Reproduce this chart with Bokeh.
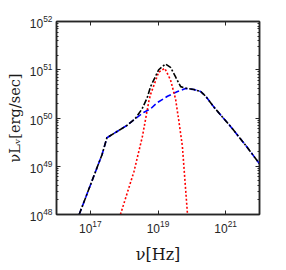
import numpy as np
from bokeh.plotting import figure
from bokeh.models import Range1d, FixedTicker, LogAxis
from bokeh.embed import file_html
from bokeh.resources import INLINE

# ---- data (log10 values) ----
log_nu_total = [16.67, 17.35, 17.49, 17.79, 18.09, 18.33, 18.53, 18.68, 18.78, 19.02,
                19.22, 19.37, 19.52, 19.67, 19.81, 20.06, 20.26, 20.41, 20.66, 21.15,
                21.64, 22.0]
log_L_total = [48.0, 49.25, 49.59, 49.72, 49.85, 49.99, 50.19, 50.42, 50.65, 51.0,
               51.12, 51.05, 50.85, 50.65, 50.62, 50.59, 50.55, 50.45, 50.22, 49.82,
               49.39, 49.05]

log_nu_nonth = [16.67, 17.35, 17.49, 17.79, 18.09, 18.39, 18.59, 18.78, 18.98, 19.28,
                19.58, 19.81, 20.06, 20.26, 20.41, 20.66, 21.15, 21.64, 22.0]
log_L_nonth = [48.0, 49.25, 49.59, 49.72, 49.85, 50.02, 50.12, 50.19, 50.32, 50.45,
               50.55, 50.61, 50.59, 50.55, 50.45, 50.22, 49.82, 49.39, 49.05]

log_nu_th = [17.89, 18.29, 18.54, 18.73, 18.78, 19.02, 19.2, 19.37, 19.52, 19.62,
             19.72, 19.87]
log_L_th = [48.0, 48.89, 49.62, 50.35, 50.49, 50.95, 51.03, 50.79, 50.39, 49.92,
            49.42, 48.02]

x_ticks = [1e17, 1e19, 1e21]
y_ticks = [1e48, 1e49, 1e50, 1e51, 1e52]
x_label = "ν[Hz]"
y_label = "νLᵥ[erg/sec]"

# ---- figure ----
p = figure(width=282, height=266, x_axis_type="log", y_axis_type="log",
           x_range=Range1d(1e16, 1e22), y_range=Range1d(1e48, 1e52),
           output_backend="svg", toolbar_location=None,
           min_border_left=56, min_border_right=23, min_border_top=21, min_border_bottom=45)
p.background_fill_color = "white"
p.border_fill_color = "white"
p.grid.visible = False
p.outline_line_color = "#262626"
p.outline_line_width = 1.5

y_minor = [k * 10.0**e for e in range(48, 52) for k in range(2, 10)]

axcol = "#262626"

def style_axis(ax, ticker, labels=True):
    ax.ticker = ticker
    ax.axis_line_color = axcol
    ax.axis_line_width = 1.5
    ax.major_tick_line_color = axcol
    ax.minor_tick_line_color = axcol
    ax.major_tick_in = 4
    ax.major_tick_out = 0
    ax.minor_tick_in = 2
    ax.minor_tick_out = 0
    ax.major_label_text_font = "Liberation Sans"
    ax.major_label_text_color = axcol
    if labels:
        ax.major_label_text_font_size = "12px"
        ax.major_label_standoff = 5
    else:
        ax.major_label_text_font_size = "2px"
        ax.major_label_text_alpha = 0
        ax.major_label_standoff = 0

style_axis(p.xaxis[0], FixedTicker(ticks=x_ticks, minor_ticks=[]))
style_axis(p.yaxis[0], FixedTicker(ticks=y_ticks, minor_ticks=y_minor))
p.yaxis[0].major_label_standoff = 4

for ax, txt, size, standoff in ((p.xaxis[0], x_label, "16px", 9),
                                (p.yaxis[0], y_label, "14.5px", 4)):
    ax.axis_label = txt
    ax.axis_label_text_font = "DejaVu Serif"
    ax.axis_label_text_font_style = "normal"
    ax.axis_label_text_font_size = size
    ax.axis_label_text_color = "#1a1a1a"
    ax.axis_label_standoff = standoff

top = LogAxis()
style_axis(top, FixedTicker(ticks=x_ticks, minor_ticks=[]), labels=False)
p.add_layout(top, "above")
right = LogAxis()
style_axis(right, FixedTicker(ticks=y_ticks, minor_ticks=y_minor), labels=False)
p.add_layout(right, "right")

# ---- curves ----
p.line(10.0**np.array(log_nu_nonth), 10.0**np.array(log_L_nonth),
       line_color="#0000ff", line_width=1.6, line_dash="6 3")
p.line(10.0**np.array(log_nu_th), 10.0**np.array(log_L_th),
       line_color="#ff0000", line_width=1.6, line_dash="2 2")
p.line(10.0**np.array(log_nu_total), 10.0**np.array(log_L_total),
       line_color="#000000", line_width=1.6, line_dash="6 2 2 2")

open("out.html", "w").write(file_html(p, INLINE))
